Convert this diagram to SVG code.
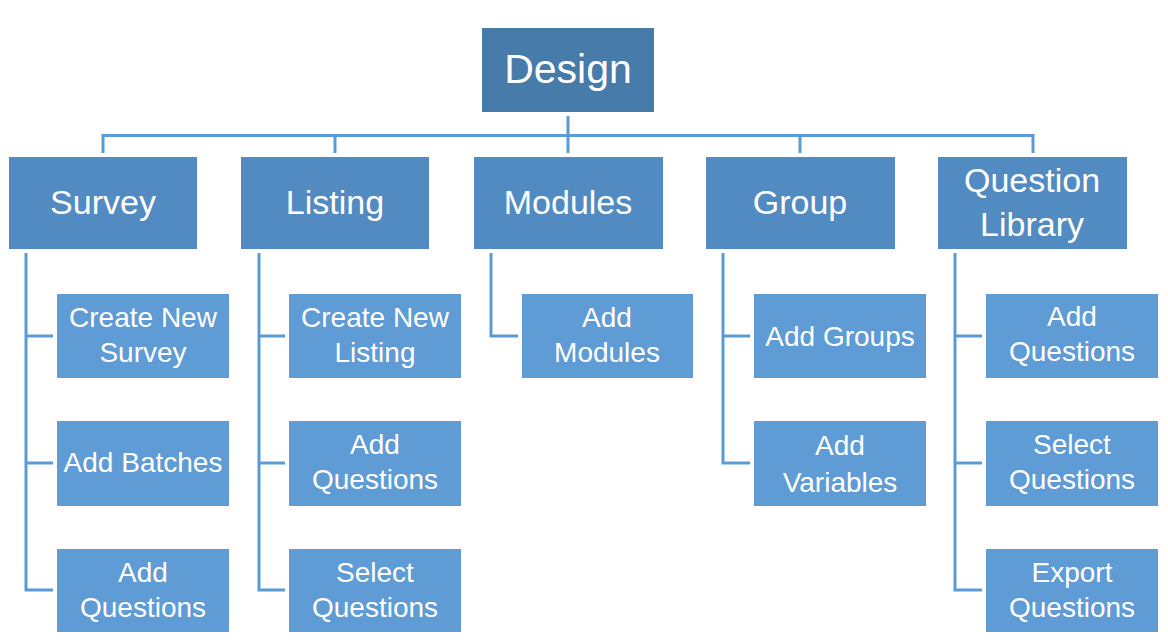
<svg xmlns="http://www.w3.org/2000/svg" width="1168" height="642" viewBox="0 0 1168 642">
<style>
.root{fill:#477BAA}
.l1{fill:#528BC2}
.l2{fill:#5F9BD5}
.t{font-family:"Liberation Sans",Arial,sans-serif;fill:#ffffff;text-anchor:middle}
.t0{font-size:41px}
.t1{font-size:34px}
.t2{font-size:28px}
.c{stroke:#5B9BD5;stroke-width:3;fill:none}
</style>
<rect width="1168" height="642" fill="#ffffff"/>
<g id="connectors">
<path class="c" d="M568 116V135.5M103 153V135.5H1033V153M335 135.5V153M568 135.5V153M800 135.5V153"/>
<path class="c" d="M26 253V590H53M26 336H53M26 463H53"/>
<path class="c" d="M259 253V590H285M259 336H285M259 463H285"/>
<path class="c" d="M491 253V336H518"/>
<path class="c" d="M723 253V463H750M723 336H750"/>
<path class="c" d="M955 253V590H982M955 336H982M955 463H982"/>
</g>
<g id="design"><rect class="root" x="482" y="28" width="172" height="84"/><text class="t t0" x="568" y="83">Design</text></g>
<g id="survey"><rect class="l1" x="9" y="157" width="188" height="92"/><text class="t t1" x="103" y="214">Survey</text></g>
<g id="listing"><rect class="l1" x="241" y="157" width="188" height="92"/><text class="t t1" x="335" y="214">Listing</text></g>
<g id="modules"><rect class="l1" x="474" y="157" width="189" height="92"/><text class="t t1" x="568" y="214">Modules</text></g>
<g id="group"><rect class="l1" x="706" y="157" width="189" height="92"/><text class="t t1" x="800" y="214">Group</text></g>
<g id="question-library"><rect class="l1" x="938" y="157" width="189" height="92"/><text class="t t1" x="1032" y="192">Question</text><text class="t t1" x="1032" y="236">Library</text></g>

<g id="create-new-survey"><rect class="l2" x="57" y="294" width="172" height="84"/><text class="t t2" x="143" y="327">Create New</text><text class="t t2" x="143" y="362">Survey</text></g>
<g id="add-batches"><rect class="l2" x="57" y="421" width="172" height="85"/><text class="t t2" x="143" y="472">Add Batches</text></g>
<g id="survey-add-questions"><rect class="l2" x="57" y="549" width="172" height="83"/><text class="t t2" x="143" y="582">Add</text><text class="t t2" x="143" y="617">Questions</text></g>

<g id="create-new-listing"><rect class="l2" x="289" y="294" width="172" height="84"/><text class="t t2" x="375" y="327">Create New</text><text class="t t2" x="375" y="362">Listing</text></g>
<g id="listing-add-questions"><rect class="l2" x="289" y="421" width="172" height="85"/><text class="t t2" x="375" y="454">Add</text><text class="t t2" x="375" y="489">Questions</text></g>
<g id="listing-select-questions"><rect class="l2" x="289" y="549" width="172" height="83"/><text class="t t2" x="375" y="582">Select</text><text class="t t2" x="375" y="617">Questions</text></g>

<g id="add-modules"><rect class="l2" x="522" y="294" width="171" height="84"/><text class="t t2" x="607" y="327">Add</text><text class="t t2" x="607" y="362">Modules</text></g>

<g id="add-groups"><rect class="l2" x="754" y="294" width="172" height="84"/><text class="t t2" x="840" y="346">Add Groups</text></g>
<g id="add-variables"><rect class="l2" x="754" y="421" width="172" height="85"/><text class="t t2" x="840" y="455">Add</text><text class="t t2" x="840" y="492">Variables</text></g>

<g id="ql-add-questions"><rect class="l2" x="986" y="294" width="172" height="84"/><text class="t t2" x="1072" y="326">Add</text><text class="t t2" x="1072" y="361">Questions</text></g>
<g id="ql-select-questions"><rect class="l2" x="986" y="421" width="172" height="85"/><text class="t t2" x="1072" y="454">Select</text><text class="t t2" x="1072" y="489">Questions</text></g>
<g id="export-questions"><rect class="l2" x="986" y="549" width="172" height="83"/><text class="t t2" x="1072" y="582">Export</text><text class="t t2" x="1072" y="617">Questions</text></g>
</svg>
